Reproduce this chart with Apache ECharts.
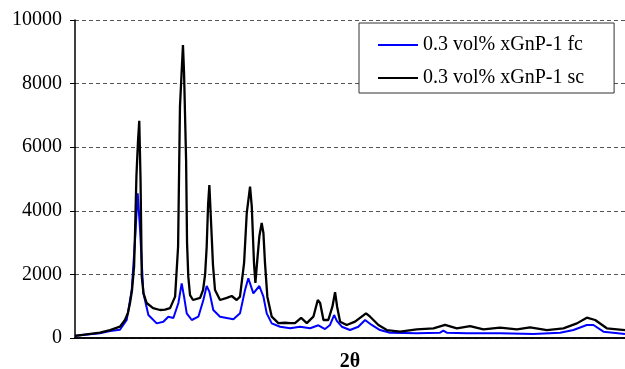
<!DOCTYPE html>
<html>
<head>
<meta charset="utf-8">
<script src="https://cdn.jsdelivr.net/npm/echarts@6/dist/echarts.min.js"></script>
<style>html,body{margin:0;padding:0;background:#fff}#c{width:625px;height:369px}</style>
</head>
<body>
<div id="c"></div>
<script>
var seriesNames = ['0.3 vol% xGnP-1 fc', '0.3 vol% xGnP-1 sc'];
var yTicks = [0, 2000, 4000, 6000, 8000, 10000];
var xName = '2\u03b8';

// 2theta (deg), intensity
var fcX = [10.00,11.59,12.23,12.86,13.29,13.61,13.82,13.99,14.14,14.25,14.35,14.67,15.20,15.62,15.94,16.26,16.58,16.79,16.94,17.11,17.43,17.85,18.17,18.38,18.55,18.80,19.23,20.08,20.50,20.82,21.03,21.35,21.73,21.99,22.20,22.52,23.05,23.69,24.32,24.96,25.49,25.91,26.23,26.49,26.66,26.98,27.50,28.03,28.46,28.88,29.41,30.05,31.75,33.23,33.44,33.66,34.93,37.05,39.17,40.87,41.72,42.57,42.99,43.63,45.00];
var fcY = [70,150,220,260,566,1510,3080,4550,3400,2360,1415,723,460,513,670,630,1100,1720,1300,775,566,670,1195,1635,1460,880,670,590,775,1510,1880,1405,1635,1300,775,460,355,305,355,305,400,280,410,723,540,355,250,355,566,410,250,167,148,167,230,167,148,148,125,167,250,410,410,200,125];

var scX = [10.00,11.59,12.23,12.86,13.18,13.37,13.50,13.63,13.76,13.82,13.91,14.01,14.09,14.17,14.25,14.36,14.56,14.97,15.41,15.73,16.05,16.37,16.56,16.68,16.78,16.87,16.94,17.07,17.13,17.21,17.32,17.51,17.96,18.15,18.28,18.38,18.47,18.55,18.70,18.78,18.91,19.23,19.66,19.97,20.29,20.50,20.76,20.93,21.14,21.25,21.39,21.48,21.60,21.73,21.88,21.99,22.09,22.24,22.52,22.94,23.37,23.69,24.00,24.39,24.75,25.17,25.45,25.60,25.81,26.12,26.38,26.55,26.68,26.87,27.29,27.82,28.52,28.78,29.31,29.84,30.69,31.75,32.81,33.55,34.30,35.14,35.99,37.05,38.12,38.96,40.03,41.08,41.94,42.57,43.10,43.84,45.00];
var scY = [70,170,250,355,566,786,1100,1510,2240,3300,5100,6200,6830,5000,1930,1400,1100,940,880,890,940,1300,2870,7275,8300,9215,8330,5600,3000,1930,1350,1195,1260,1510,2000,2870,4200,4810,3190,2300,1510,1195,1260,1320,1195,1300,2360,3930,4760,4130,2360,1730,2450,3190,3620,3300,2360,1300,670,470,480,470,470,630,470,670,1195,1100,566,566,985,1440,985,513,410,513,775,670,410,250,200,270,305,410,305,377,270,325,270,335,250,305,460,640,566,305,250];

function pairs(xs, ys){ return xs.map(function(x,i){ return [x, ys[i]]; }); }

var font = "'Liberation Serif','Times New Roman',serif";
var chart = echarts.init(document.getElementById('c'), null, {renderer:'canvas'});
chart.setOption({
  animation: false,
  backgroundColor: '#fff',
  grid: {left: 75, top: 20, right: 0, bottom: 31, containLabel: false, outerBoundsMode: 'none'},
  legend: {
    orient: 'vertical', left: 359, top: 23,
    padding: [12, 30, 5, 19],
    itemWidth: 40, itemHeight: 14, itemGap: 13,
    icon: 'path://M0,0H40V2H0Z', symbolKeepAspect: true,
    backgroundColor: '#fff', borderColor: '#333', borderWidth: 1, borderRadius: 0,
    textStyle: {fontFamily: font, fontSize: 20, color: '#000'},
    data: seriesNames
  },
  xAxis: [{
    type: 'value', min: 10, max: 45,
    name: xName, nameLocation: 'middle', nameGap: 14,
    nameTextStyle: {fontFamily: font, fontSize: 20, fontWeight: 'bold', color: '#000'},
    axisLine: {show: true, onZero: false, lineStyle: {color: '#000', width: 1.5}},
    axisTick: {show: false}, axisLabel: {show: false}, splitLine: {show: false}
  }, {
    type: 'value', min: 10, max: 45, position: 'top',
    axisLine: {show: true, lineStyle: {color: '#000', width: 1.5}},
    axisTick: {show: false}, axisLabel: {show: false}, splitLine: {show: false}
  }],
  yAxis: {
    type: 'value', min: yTicks[0], max: yTicks[yTicks.length-1], interval: 2000,
    axisLine: {show: true, lineStyle: {color: '#000', width: 1.5}},
    axisTick: {show: true, length: 5, inside: false, lineStyle: {color: '#000'}},
    axisLabel: {fontFamily: font, fontSize: 20, color: '#000', margin: 13,
      formatter: function(v){ return String(v); }},
    splitLine: {show: true, lineStyle: {color: '#555', width: 1, type: [4, 3]}}
  },
  series: [{
    name: seriesNames[0], type: 'line', xAxisIndex: 0, symbol: 'none',
    lineStyle: {color: '#0000ff', width: 2}, itemStyle: {color: '#0000ff'},
    data: pairs(fcX, fcY)
  }, {
    name: seriesNames[1], type: 'line', xAxisIndex: 0, symbol: 'none',
    lineStyle: {color: '#000', width: 2.3}, itemStyle: {color: '#000'},
    data: pairs(scX, scY)
  }]
});
</script>
</body>
</html>
